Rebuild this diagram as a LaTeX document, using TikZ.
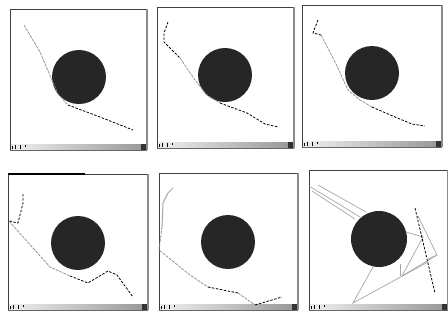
\documentclass[tikz,border=0pt]{standalone}
\usetikzlibrary{calc}
\tikzset{
  disc/.style={fill=black!85},
  lpath/.style={draw=black!45, line width=0.7pt, dash pattern=on 3pt off 1pt},
  dpath/.style={draw=black, line width=0.8pt, dash pattern=on 2.5pt off 1.5pt},
  gpath/.style={draw=black!35, line width=0.7pt},
}
\newcommand{\mywindow}[4]{% left top right bottom
  \fill[white] (#1,#2) rectangle (#3,#4);
  \shade[left color=black!8, right color=black!40] (#1+8,#4-6) rectangle (#3-5,#4);
  \fill[black!8] (#1,#4-6) rectangle (#1+8,#4);
  \fill[black!80] (#3-6,#4-6) rectangle (#3-1,#4);
  \draw[black, line width=0.8pt] (#1+2,#4-4) -- (#1+2,#4-1) (#1+5,#4-5)--(#1+5,#4-1)
     (#1+10,#4-5)--(#1+10,#4-1) (#1+15,#4-5)--(#1+15,#4-3);
  \draw[black!75, line width=1pt] (#1,#4) -- (#1,#2) -- (#3,#2);
  \draw[black!45, line width=1.2pt] (#3,#2) -- (#3,#4);
  \draw[black!60, line width=0.6pt] (#1,#4) -- (#3,#4);
}
\begin{document}
\begin{tikzpicture}[x=1pt,y=-1pt]
\useasboundingbox (0,0) rectangle (448,325);
% ---------- panel 1
\mywindow{10}{9}{147}{150}
\fill[disc] (79,77) circle (27);
\draw[lpath] (24,25) -- (40,52) -- (52,80) -- (58,94) -- (68,105);
\draw[dpath] (68,105) -- (100,117) -- (133,130);
% ---------- panel 2
\mywindow{157}{7}{294}{148}
\fill[disc] (225,75) circle (27);
\draw[dpath] (168,22) -- (164,33) -- (164,42) -- (180,58);
\draw[lpath] (180,58) -- (195,80) -- (207,95) -- (220,103);
\draw[dpath] (220,103) -- (247,113) -- (265,124) -- (278,127);
% ---------- panel 3
\mywindow{302}{5}{442}{147}
\fill[disc] (372,73) circle (27);
\draw[dpath] (318,20) -- (313,33) -- (321,35);
\draw[lpath] (321,35) -- (335,62) -- (348,90) -- (360,100) -- (372,107);
\draw[dpath] (372,107) -- (395,117) -- (412,124) -- (425,126);
% ---------- panel 4
\mywindow{8}{174}{148}{310}
\draw[black, line width=1.5pt] (8,174) -- (85,174);
\fill[disc] (78,243) circle (27);
\draw[dpath] (23,194) -- (23,203) -- (18,223) -- (9,221);
\draw[lpath] (9,221) -- (33,248) -- (50,267) -- (70,276);
\draw[dpath] (70,276) -- (88,283) -- (108,271) -- (117,275) -- (133,297);
% ---------- panel 5
\mywindow{159}{173}{298}{310}
\fill[disc] (228,242) circle (27);
\draw[black!35, line width=1pt] (173,188) -- (168,193) -- (163,203) -- (162,227);
\draw[lpath] (162,227) -- (159,250) -- (190,275) -- (208,287);
\draw[dpath] (208,287) -- (238,293);
\draw[lpath] (238,293) -- (255,305);
\draw[dpath] (255,305) -- (282,297);
% ---------- panel 6
\mywindow{309}{170}{448}{310}
\fill[disc] (379,239) circle (28);
\draw[gpath] (309,186) -- (360,217);
\draw[gpath] (318,185) -- (366,212);
\draw[gpath] (312,191) -- (355,219);
\draw[gpath] (406,232) -- (423,237) -- (402,276) -- (437,255);
\draw[gpath] (400,264) -- (400,276);
\draw[gpath] (373,267) -- (353,303) -- (428,262);
\draw[gpath] (418,216) -- (437,255) -- (428,259);
\draw[dpath] (415,208) -- (435,293);
\end{tikzpicture}
\end{document}
